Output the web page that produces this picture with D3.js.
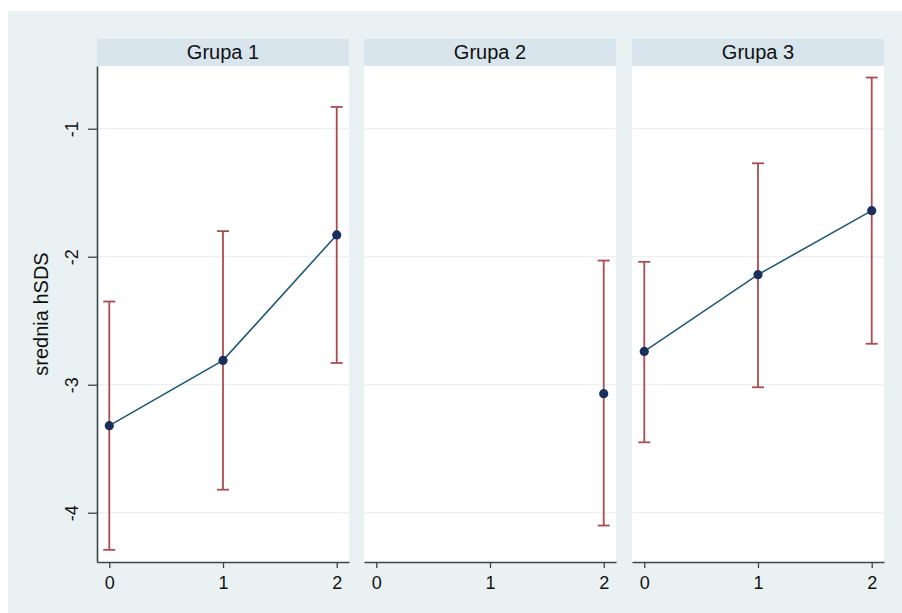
<!DOCTYPE html>
<html>
<head>
<meta charset="utf-8">
<script src="https://cdn.jsdelivr.net/npm/d3@7"></script>
<style>
html,body{margin:0;padding:0;background:#fff;}
svg{display:block;font-family:Arial,"Liberation Sans",Helvetica,sans-serif;}
</style>
</head>
<body>
<svg id="chart" width="902" height="613"></svg>
<script>
// ---- data ----
const groups = ["Grupa 1", "Grupa 2", "Grupa 3"];
const xTicks = [0, 1, 2];
const yTicks = [-1, -2, -3, -4];
const yTitle = "srednia hSDS";
// per group: x positions, means, upper and lower CI
const g1x = [0, 1, 2];
const g1mean = [-3.32, -2.81, -1.83];
const g1hi = [-2.35, -1.80, -0.83];
const g1lo = [-4.29, -3.82, -2.83];
const g2x = [2];
const g2mean = [-3.07];
const g2hi = [-2.03];
const g2lo = [-4.10];
const g3x = [0, 1, 2];
const g3mean = [-2.74, -2.14, -1.64];
const g3hi = [-2.04, -1.27, -0.60];
const g3lo = [-3.45, -3.02, -2.68];

const series = [
  {x: g1x, mean: g1mean, hi: g1hi, lo: g1lo},
  {x: g2x, mean: g2mean, hi: g2hi, lo: g2lo},
  {x: g3x, mean: g3mean, hi: g3hi, lo: g3lo}
];

// ---- layout ----
const svg = d3.select("#chart");
const W = 902, H = 613;
const bg = "#EAF1F3", strip = "#D8E5EC", axisCol = "#37474A";
const ciCol = "#AD4C50", lineCol = "#1F5B78", dotCol = "#1B2F5C";
const FONT = "Arial, 'Liberation Sans', sans-serif";
const fmt = d => String(d);

svg.append("rect").attr("x", 8).attr("y", 11).attr("width", W - 8).attr("height", H - 11).attr("fill", bg);

const panelLeft = [97, 364, 632];
const panelW = 252;
const stripTop = 39, plotTop = 66, plotBottom = 562;

const y = d3.scaleLinear().domain([-0.51, -4.385]).range([plotTop, plotBottom]);

groups.forEach((name, i) => {
  const x0 = panelLeft[i];
  const x = d3.scaleLinear().domain([-0.108, 2.108]).range([x0, x0 + panelW]);
  const g = svg.append("g");

  // strip
  g.append("rect").attr("x", x0).attr("y", stripTop).attr("width", panelW).attr("height", plotTop - stripTop).attr("fill", strip);
  g.append("text").attr("x", x0 + panelW / 2).attr("y", 58.5).attr("text-anchor", "middle")
    .style("font-size", "20px").attr("fill", "#111").style("font-family", FONT).text(name);

  // plot area
  g.append("rect").attr("x", x0).attr("y", plotTop).attr("width", panelW).attr("height", plotBottom - plotTop).attr("fill", "#fff");

  // gridlines
  g.selectAll(".grid").data(yTicks).enter().append("line")
    .attr("x1", x0).attr("x2", x0 + panelW)
    .attr("y1", d => y(d)).attr("y2", d => y(d))
    .attr("stroke", "#EBF2F4").attr("stroke-width", 1.3);

  // x axis
  const xa = g.append("g").attr("transform", `translate(0,${plotBottom})`)
    .call(d3.axisBottom(x).tickValues(xTicks).tickFormat(fmt).tickSize(6).tickPadding(8).tickSizeOuter(0));
  xa.attr("font-size", null).attr("font-family", null);
  xa.select(".domain").attr("stroke", axisCol).attr("stroke-width", 1.6);
  xa.selectAll(".tick line").attr("stroke", axisCol).attr("stroke-width", 1.3);
  xa.selectAll(".tick text").style("font-size", "18px").attr("fill", "#111").style("font-family", FONT);

  // y axis on first panel
  if (i === 0) {
    const ya = g.append("g").attr("transform", `translate(${x0},0)`)
      .call(d3.axisLeft(y).tickValues(yTicks).tickFormat(fmt).tickSize(9).tickPadding(5).tickSizeOuter(0));
    ya.attr("font-size", null).attr("font-family", null);
    ya.select(".domain").attr("stroke", axisCol).attr("stroke-width", 1.6);
    ya.selectAll(".tick line").attr("stroke", axisCol).attr("stroke-width", 1.3);
    ya.selectAll(".tick text").style("font-size", "18px").attr("fill", "#111").style("font-family", FONT)
      .attr("x", 0).attr("y", 0).attr("dx", 0).attr("dy", "0.35em")
      .attr("text-anchor", "middle")
      .attr("transform", "translate(-25,0) rotate(-90)");
  }

  const s = series[i];
  const pts = s.x.map((xv, k) => ({x: xv, m: s.mean[k], hi: s.hi[k], lo: s.lo[k]}));

  // CI bars
  const cap = 6;
  pts.forEach(p => {
    const cx = x(p.x);
    g.append("line").attr("x1", cx).attr("x2", cx).attr("y1", y(p.hi)).attr("y2", y(p.lo))
      .attr("stroke", ciCol).attr("stroke-width", 1.8);
    [p.hi, p.lo].forEach(v => {
      g.append("line").attr("x1", cx - cap).attr("x2", cx + cap).attr("y1", y(v)).attr("y2", y(v))
        .attr("stroke", ciCol).attr("stroke-width", 1.8);
    });
  });

  // connecting line
  if (pts.length > 1) {
    g.append("path").datum(pts)
      .attr("d", d3.line().x(p => x(p.x)).y(p => y(p.m)))
      .attr("fill", "none").attr("stroke", lineCol).attr("stroke-width", 1.6);
  }

  // markers
  g.selectAll(".dot").data(pts).enter().append("circle")
    .attr("cx", p => x(p.x)).attr("cy", p => y(p.m)).attr("r", 4.6)
    .attr("fill", dotCol);
});

// y title
svg.append("text")
  .attr("transform", `translate(48,${(plotTop + plotBottom) / 2}) rotate(-90)`)
  .attr("text-anchor", "middle").style("font-size", "20px").attr("fill", "#111").style("font-family", FONT)
  .text(yTitle);
</script>
</body>
</html>
